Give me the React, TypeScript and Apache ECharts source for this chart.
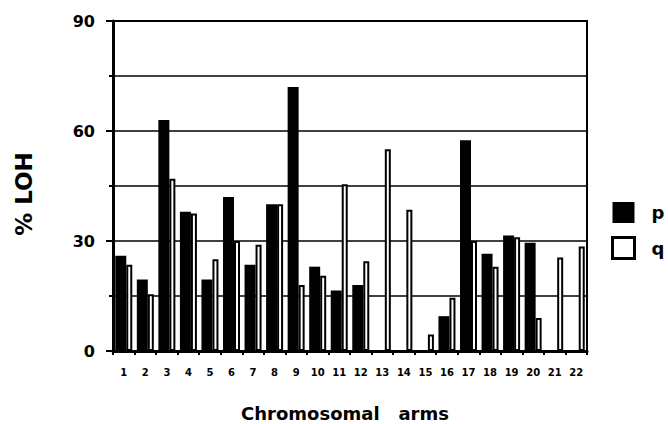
import React, { useEffect, useRef } from "react";
import * as echarts from "echarts";

const categories = ["1","2","3","4","5","6","7","8","9","10","11","12","13","14","15","16","17","18","19","20","21","22"];
const pValues = [26, 19.5, 63, 38, 19.5, 42, 23.5, 40, 72, 23, 16.5, 18, 0, 0, 0, 9.5, 57.5, 26.5, 31.5, 29.5, 0, 0];
const qValues = [23.5, 15.5, 47, 37.5, 25, 30, 29, 40, 18, 20.5, 45.5, 24.5, 55, 38.5, 4.5, 14.5, 30, 23, 31, 9, 25.5, 28.5];
const yTicks = [0, 30, 60, 90];

const FONT = "DejaVu Sans";

export default function App() {
  const ref = useRef<HTMLDivElement>(null);
  useEffect(() => {
    if (!ref.current) return;
    const chart = echarts.init(ref.current, undefined, { renderer: "svg" });
    chart.setOption({
      animation: false,
      backgroundColor: "#fff",
      grid: {
        left: 113,
        right: 81,
        top: 21,
        bottom: 73,
        show: true,
        borderColor: "#000",
        borderWidth: 2,
        backgroundColor: "transparent",
      },
      legend: {
        orient: "vertical",
        left: 611,
        top: 202,
        itemWidth: 22,
        itemHeight: 21,
        itemGap: 13,
        icon: "rect",
        padding: 0,
        textStyle: { fontFamily: FONT, fontWeight: "bold", fontSize: 18, color: "#000", padding: [0, 0, 3, 12] },
        data: [
          { name: "p", itemStyle: { color: "#000", borderColor: "#000", borderWidth: 0 } },
          { name: "q", itemStyle: { color: "#fff", borderColor: "#000", borderWidth: 3 } },
        ],
      },
      xAxis: {
        type: "category",
        data: categories,
        boundaryGap: true,
        axisLine: { show: true, lineStyle: { color: "#000", width: 3 } },
        axisTick: { show: true, alignWithLabel: false, length: 4, lineStyle: { color: "#000", width: 2 } },
        axisLabel: { interval: 0, fontFamily: FONT, fontWeight: "bold", fontSize: 10, color: "#000", margin: 16 },
        splitLine: { show: false },
      },
      yAxis: {
        type: "value",
        min: yTicks[0],
        max: yTicks[yTicks.length - 1],
        interval: 30,
        axisLine: { show: true, lineStyle: { color: "#000", width: 3 } },
        axisTick: { show: true, length: 7, lineStyle: { color: "#000", width: 2 } },
        minorTick: { show: true, splitNumber: 2, length: 4, lineStyle: { color: "#000", width: 2 } },
        axisLabel: { fontFamily: FONT, fontWeight: "bold", fontSize: 16, color: "#000", margin: 18 },
        splitLine: { show: true, lineStyle: { color: "#000", width: 1.5 } },
        minorSplitLine: { show: true, lineStyle: { color: "#000", width: 1.5 } },
      },
      series: [
        {
          name: "p",
          type: "bar",
          data: pValues,
          barWidth: 11,
          barGap: "0%",
          itemStyle: { color: "#000" },
        },
        {
          name: "q",
          type: "bar",
          data: qValues,
          barWidth: 6,
          barGap: "0%",
          itemStyle: { color: "#fff", borderColor: "#000", borderWidth: 2 },
        },
      ],
      graphic: [
        {
          type: "text",
          x: 24,
          y: 194,
          rotation: Math.PI / 2,
          style: {
            text: "% LOH",
            fontFamily: FONT,
            fontWeight: "bold",
            fontSize: 23,
            fill: "#000",
            align: "center",
            verticalAlign: "middle",
          },
        },
        {
          type: "text",
          x: 345,
          y: 413,
          style: {
            text: "Chromosomal   arms",
            fontFamily: FONT,
            fontWeight: "bold",
            fontSize: 18,
            fill: "#000",
            align: "center",
            verticalAlign: "middle",
          },
        },
      ],
    });
    return () => chart.dispose();
  }, []);
  return (
    <div
      ref={ref}
      style={{ position: "fixed", left: 0, top: 0, width: 668, height: 424 }}
    />
  );
}
